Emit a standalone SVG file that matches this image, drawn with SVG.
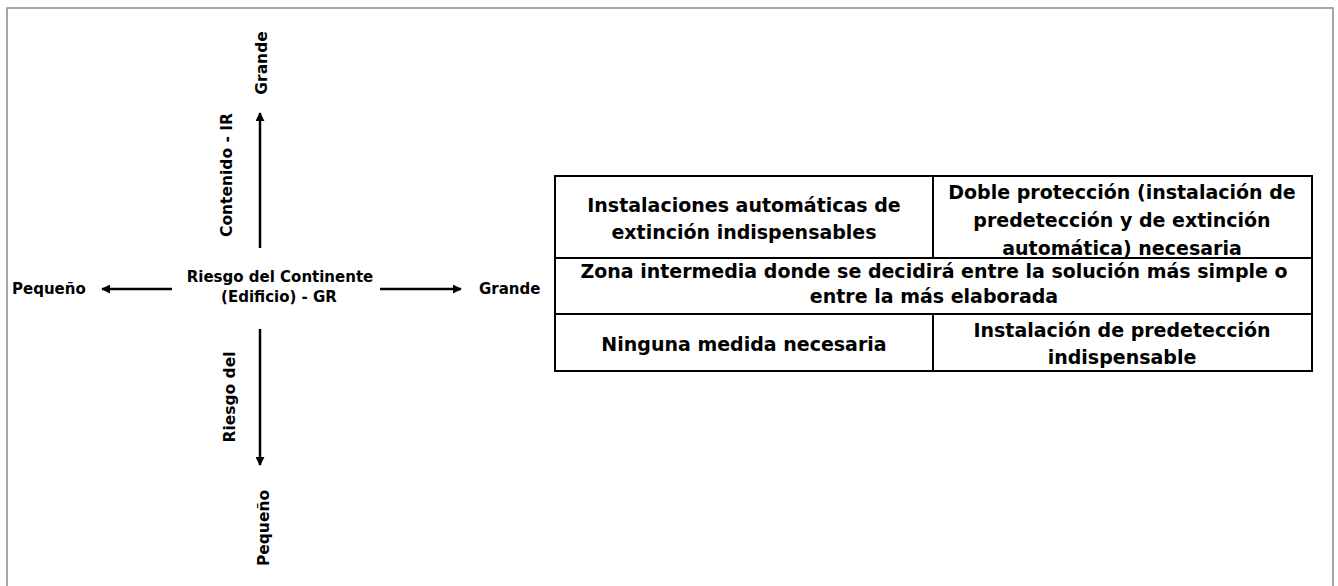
<svg xmlns="http://www.w3.org/2000/svg" width="1338" height="586" viewBox="0 0 1338 586">
  <style>
    .lbl { font-family: "DejaVu Sans", Verdana, sans-serif; font-weight: bold; font-size: 15px; fill: #000; }
    .vlbl { font-family: "DejaVu Sans", Verdana, sans-serif; font-weight: bold; font-size: 15.5px; fill: #000; text-anchor: middle; }
    .cell { font-family: "DejaVu Sans", Verdana, sans-serif; font-weight: bold; font-size: 19px; fill: #000; text-anchor: middle; }
    .box { fill: #fff; stroke: #000; stroke-width: 2; }
    .axis { stroke: #000; stroke-width: 2.5; fill: none; }
  </style>
  <defs>
    <marker id="arrow" viewBox="0 0 10 10" refX="9" refY="5" markerWidth="3.6" markerHeight="3.6" orient="auto" markerUnits="strokeWidth">
      <path d="M0,0 L10,5 L0,10 Z" fill="#000"/>
    </marker>
  </defs>
  <rect x="0" y="0" width="1338" height="586" fill="#fff"/>
  <rect id="frame" x="7" y="8" width="1326" height="600" fill="#fff" stroke="#8a8a8a" stroke-width="1.5"/>

  <g id="connectors">
    <line class="axis" x1="172" y1="289" x2="102" y2="289" marker-end="url(#arrow)"/>
    <line class="axis" x1="380" y1="289" x2="461" y2="289" marker-end="url(#arrow)"/>
    <line class="axis" x1="260" y1="248" x2="260" y2="113" marker-end="url(#arrow)"/>
    <line class="axis" x1="260" y1="329" x2="260" y2="465" marker-end="url(#arrow)"/>
  </g>

  <g id="center-label">
    <text class="lbl" x="280" y="282" text-anchor="middle">Riesgo del Continente</text>
    <text class="lbl" x="279" y="302" text-anchor="middle">(Edificio) - GR</text>
  </g>
  <g id="left-label"><text class="lbl" x="12" y="294">Pequeño</text></g>
  <g id="right-label"><text class="lbl" x="479" y="294">Grande</text></g>
  <g id="top-label"><text class="vlbl" transform="translate(267,63) rotate(-90)">Grande</text></g>
  <g id="top-axis-label"><text class="vlbl" transform="translate(232,175) rotate(-90)">Contenido - IR</text></g>
  <g id="bottom-axis-label"><text class="vlbl" transform="translate(235,397) rotate(-90)">Riesgo del</text></g>
  <g id="bottom-label"><text class="vlbl" transform="translate(269,528) rotate(-90)">Pequeño</text></g>

  <g id="table">
    <g id="cell-top-left">
      <rect class="box" x="555" y="176" width="378" height="82"/>
      <text class="cell" x="744" y="211.5">Instalaciones automáticas de</text>
      <text class="cell" x="744" y="238.5">extinción indispensables</text>
    </g>
    <g id="cell-top-right">
      <rect class="box" x="933" y="176" width="379" height="82"/>
      <text class="cell" x="1122" y="199">Doble protección (instalación de</text>
      <text class="cell" x="1122" y="227">predetección y de extinción</text>
      <text class="cell" x="1122" y="255">automática) necesaria</text>
    </g>
    <g id="cell-middle">
      <rect class="box" x="555" y="258" width="757" height="56"/>
      <text class="cell" x="934" y="278">Zona intermedia donde se decidirá entre la solución más simple o</text>
      <text class="cell" x="934" y="303">entre la más elaborada</text>
    </g>
    <g id="cell-bottom-left">
      <rect class="box" x="555" y="314" width="378" height="57"/>
      <text class="cell" x="744" y="351">Ninguna medida necesaria</text>
    </g>
    <g id="cell-bottom-right">
      <rect class="box" x="933" y="314" width="379" height="57"/>
      <text class="cell" x="1122" y="337">Instalación de predetección</text>
      <text class="cell" x="1122" y="364">indispensable</text>
    </g>
  </g>
</svg>
